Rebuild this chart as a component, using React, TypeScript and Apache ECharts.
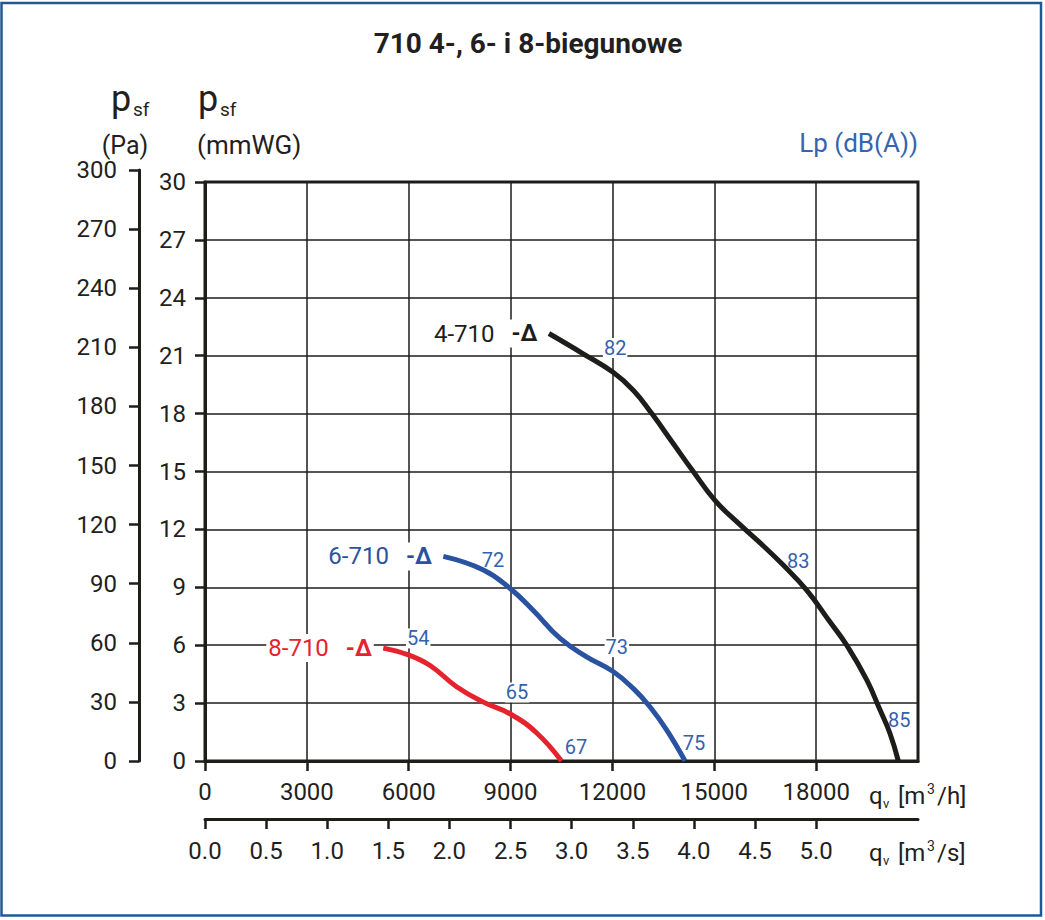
import React, { useEffect, useRef } from "react";
import * as echarts from "echarts";

// x-axis ticks
const qvTicksH = [0, 3000, 6000, 9000, 12000, 15000, 18000];
const qvTicksS = [0, 0.5, 1.0, 1.5, 2.0, 2.5, 3.0, 3.5, 4.0, 4.5, 5.0];

// curve 4-710 (qv m3/h, psf mmWG)
const q4 = [10130, 11140, 12010, 12620, 13160, 13790, 14380, 15020, 15660, 16350, 17030, 17720, 18410, 18900, 19490, 19880, 20170, 20420];
const p4 = [22.15, 21.1, 20.15, 19.2, 18.0, 16.45, 15.0, 13.5, 12.4, 11.3, 10.15, 8.85, 7.2, 6.0, 4.2, 2.65, 1.45, 0];
// curve 6-710
const q6 = [7020, 8200, 8980, 9670, 10460, 11240, 12010, 12620, 13110, 13600, 14140];
const p6 = [10.6, 9.9, 8.95, 7.8, 6.35, 5.4, 4.65, 3.75, 2.8, 1.6, 0];
// curve 8-710
const q8 = [5250, 5990, 6630, 7410, 8200, 8980, 9770, 10500];
const p8 = [5.85, 5.5, 4.95, 3.85, 3.05, 2.45, 1.45, 0];

// Lp dB(A) labels: value and where the label sits (qv, psf)
const dbValues = [82, 83, 85, 72, 73, 75, 54, 65, 67];
const dbAtQ = [12080, 17470, 20450, 8480, 12130, 14400, 6280, 9190, 10930];
const dbAtP = [21.4, 10.35, 2.1, 10.4, 5.9, 0.95, 6.35, 3.55, 0.75];

const curveNames = ["4-710", "6-710", "8-710"];
const curveColors = ["#1d1d1b", "#2953a1", "#e5232f"];

const FONT = "Roboto";

export default function App() {
  const ref = useRef<HTMLDivElement>(null);
  useEffect(() => {
    if (!ref.current) return;
    const chart = echarts.init(ref.current, undefined, { renderer: "svg" });
    const curves = [
      q4.map((q, i) => [q, p4[i]]),
      q6.map((q, i) => [q, p6[i]]),
      q8.map((q, i) => [q, p8[i]]),
    ];
    const axisLineStyle = { color: "#1d1d1b", width: 3 };
    const tickStyle = { color: "#1d1d1b", width: 2.5 };
    const labelStyle = { fontSize: 24, color: "#231f20", fontFamily: FONT };

    const lineSeries = curves.map((data, i) => ({
      type: "line",
      xAxisIndex: 0,
      yAxisIndex: 0,
      data,
      smooth: 0.45,
      showSymbol: false,
      symbol: "none",
      lineStyle: { color: curveColors[i], width: 5 },
      z: 4,
      silent: true,
    }));

    const startLabels = {
      type: "scatter",
      xAxisIndex: 0,
      yAxisIndex: 0,
      symbolSize: 1,
      itemStyle: { color: "rgba(0,0,0,0)", opacity: 1 },
      z: 5,
      silent: true,
      data: curves.map((c, i) => ({
        value: c[0],
        label: {
          show: true,
          position: "left",
          distance: 9,
          formatter: `{n|${curveNames[i]}}{g| }{d|-Δ}`,
          backgroundColor: "#ffffff",
          padding: [2, 2, 2, 2],
          rich: {
            n: { fontSize: 24, color: curveColors[i], fontFamily: FONT },
            g: { width: 17 },
            d: { fontSize: 23, fontWeight: "bold", color: curveColors[i], fontFamily: FONT },
          },
        },
      })),
    };

    const dbLabels = {
      type: "scatter",
      xAxisIndex: 0,
      yAxisIndex: 0,
      symbolSize: 1,
      itemStyle: { color: "rgba(0,0,0,0)", opacity: 1 },
      z: 2,
      silent: true,
      data: dbValues.map((v, i) => [dbAtQ[i], dbAtP[i], v]),
      label: {
        show: true,
        position: "inside",
        formatter: (p: any) => String(p.value[2]),
        color: "#3561ad",
        fontSize: 20,
        fontFamily: FONT,
        backgroundColor: "#ffffff",
        padding: [0, 1, 0, 1],
      },
    };

    const txt = (x: number, y: number, text: string, size: number, extra: any = {}) => ({
      type: "text",
      x,
      y,
      style: {
        text,
        fontSize: size,
        fontFamily: FONT,
        fill: "#231f20",
        textAlign: "left",
        textVerticalAlign: "middle",
        ...extra,
      },
    });

    chart.setOption({
      animation: false,
      textStyle: { fontFamily: FONT },
      grid: [
        { left: 205, top: 182, width: 713, height: 579, show: true, borderColor: "#1d1d1b", borderWidth: 3, backgroundColor: "transparent" },
        { left: 139, top: 170, width: 1, height: 591 },
        { left: 205, top: 818, width: 713, height: 1 },
      ],
      xAxis: [
        {
          gridIndex: 0,
          type: "value",
          min: 0,
          max: 21000,
          interval: 3000,
          axisLine: { show: true, onZero: false, lineStyle: axisLineStyle },
          axisTick: { show: true, customValues: qvTicksH, length: 10, lineStyle: tickStyle },
          axisLabel: { customValues: qvTicksH, margin: 19, formatter: (v: number) => String(v), ...labelStyle },
          splitLine: { show: true, lineStyle: { color: "#1d1d1b", width: 1.5 } },
        },
        { gridIndex: 1, type: "value", show: false },
        {
          gridIndex: 2,
          type: "value",
          min: 0,
          max: 21000 / 3600,
          position: "bottom",
          axisLine: { show: true, onZero: false, lineStyle: axisLineStyle },
          axisTick: { show: true, customValues: qvTicksS, length: 10, lineStyle: tickStyle },
          axisLabel: { customValues: qvTicksS, margin: 20, formatter: (v: number) => v.toFixed(1), ...labelStyle },
          splitLine: { show: false },
        },
      ],
      yAxis: [
        {
          gridIndex: 0,
          type: "value",
          min: 0,
          max: 30,
          interval: 3,
          axisLine: { show: true, onZero: false, lineStyle: axisLineStyle },
          axisTick: { show: true, length: 10, lineStyle: tickStyle },
          axisLabel: { margin: 19, padding: [7, 0, 0, 0], ...labelStyle },
          splitLine: { show: true, lineStyle: { color: "#1d1d1b", width: 1.5 } },
        },
        {
          gridIndex: 1,
          type: "value",
          min: 0,
          max: 300,
          interval: 30,
          position: "left",
          axisLine: { show: true, onZero: false, lineStyle: axisLineStyle },
          axisTick: { show: true, length: 10, lineStyle: tickStyle },
          axisLabel: { margin: 22, padding: [2, 0, 0, 0], ...labelStyle },
          splitLine: { show: false },
        },
        { gridIndex: 2, type: "value", show: false, min: 0, max: 1 },
      ],
      series: [...lineSeries, startLabels, dbLabels],
      graphic: [
        {
          type: "rect",
          shape: { x: 1.5, y: 3, width: 1039.5, height: 912.5 },
          style: { fill: "none", stroke: "#215894", lineWidth: 2.5 },
          silent: true,
        },
        txt(528, 43, "710 4-, 6- i 8-biegunowe", 28, { fontWeight: "bold", textAlign: "center" }),
        txt(111, 99, "p", 36),
        txt(133, 109, "sf", 19),
        txt(198, 99, "p", 36),
        txt(220, 109, "sf", 19),
        txt(125, 145, "(Pa)", 25, { textAlign: "center" }),
        txt(197, 145, "(mmWG)", 26),
        txt(918, 143, "Lp (dB(A))", 26, { textAlign: "right", fill: "#3465ae" }),
        txt(869, 796, "q", 24),
        txt(883, 803, "v", 13),
        txt(898, 796, "[m", 24),
        txt(927, 789, "3", 14),
        txt(937, 796, "/h]", 24),
        txt(869, 853, "q", 24),
        txt(883, 860, "v", 13),
        txt(898, 853, "[m", 24),
        txt(927, 846, "3", 14),
        txt(937, 853, "/s]", 24),
      ],
    });
    return () => chart.dispose();
  }, []);
  return (
    <div
      ref={ref}
      style={{ position: "fixed", left: 0, top: 0, width: 1045, height: 920, background: "#ffffff" }}
    />
  );
}
